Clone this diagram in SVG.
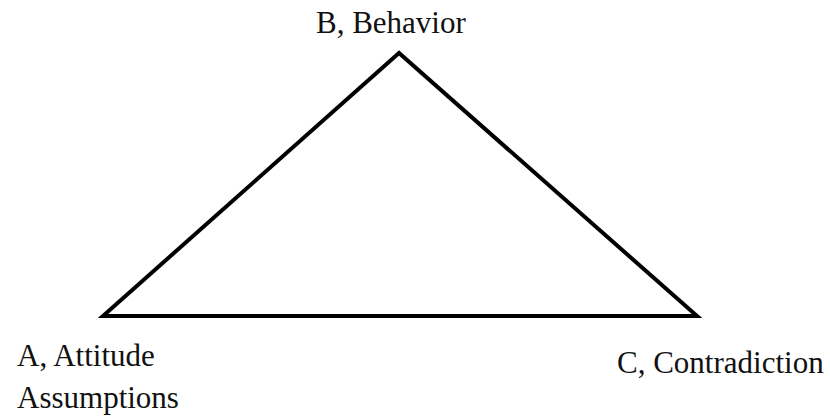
<svg xmlns="http://www.w3.org/2000/svg" width="830" height="417" viewBox="0 0 830 417">
<style>
text { font-family: "Liberation Serif", "Times New Roman", serif; font-size: 31px; fill: #111; }
.edge { fill: none; stroke: #000; stroke-width: 4; stroke-linejoin: miter; }
</style>
<rect width="830" height="417" fill="#fff"/>
<g id="connectors">
<polygon class="edge" points="399,53 103,316 697,316"/>
</g>
<g id="node-b"><text x="316" y="33">B, Behavior</text></g>
<g id="node-a"><text x="17" y="366">A, Attitude</text><text x="17" y="408">Assumptions</text></g>
<g id="node-c"><text x="617" y="373">C, Contradiction</text></g>
</svg>
